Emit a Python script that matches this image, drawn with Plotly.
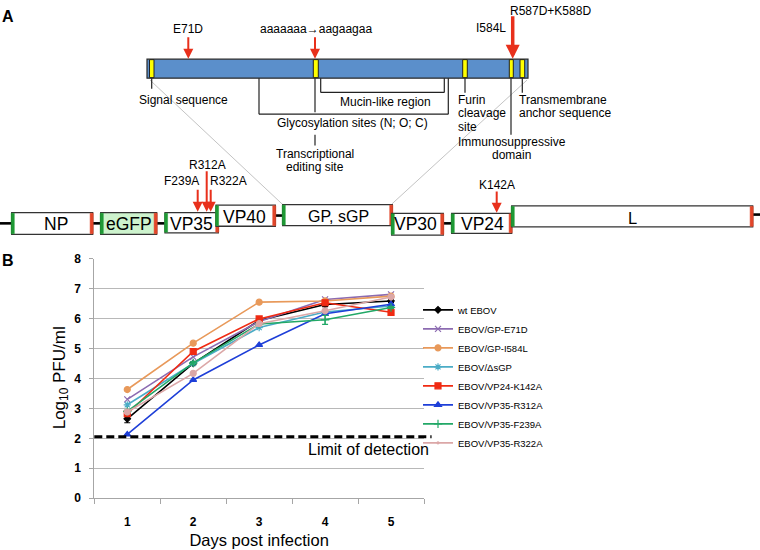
import plotly.graph_objects as go

W, H = 760, 550

# ---------------- data (panel B) ----------------
days = [1, 2, 3, 4, 5]
series_names = ["wt EBOV", "EBOV/GP-E71D", "EBOV/GP-I584L", "EBOV/ΔsGP",
                "EBOV/VP24-K142A", "EBOV/VP35-R312A", "EBOV/VP35-F239A", "EBOV/VP35-R322A"]
wt_ebov    = [2.65, 4.50, 5.94, 6.47, 6.59]
gp_e71d    = [3.30, 4.72, 5.90, 6.64, 6.81]
gp_i584l   = [3.63, 5.18, 6.55, 6.59, 6.75]
d_sgp      = [3.12, 4.50, 5.70, 6.22, 6.42]
vp24_k142a = [2.82, 4.90, 5.99, 6.53, 6.21]
vp35_r312a = [2.13, 3.95, 5.12, 6.16, 6.48]
vp35_f239a = [2.90, 4.52, 5.82, 5.96, 6.37]
vp35_r322a = [2.88, 4.17, 5.83, 6.26, 6.72]
wt_err     = [0.13, 0.05, 0.05, 0.07, 0.05]
f239a_err  = [0.04, 0.04, 0.04, 0.15, 0.04]
limit_of_detection = 2.05

# ---------------- panel A content ----------------
gene_names = ["NP", "eGFP", "VP35", "VP40", "GP, sGP", "VP30", "VP24", "L"]
mutation_labels = ["E71D", "aaaaaaa→aagaagaa", "I584L", "R587D+K588D",
                   "R312A", "F239A", "R322A", "K142A"]

series_values = [wt_ebov, gp_e71d, gp_i584l, d_sgp, vp24_k142a, vp35_r312a, vp35_f239a, vp35_r322a]
series_errors = [wt_err, None, None, None, None, None, f239a_err, None]
colors = ["#000000", "#8c6bb1", "#e8995a", "#4bacc6", "#f02a12", "#1e3fd8", "#22a867", "#dba7a7"]
symbols = ["diamond", "x-thin-open", "circle", "asterisk-open", "square", "triangle-up", "cross-thin-open", "circle"]
msizes = [5, 6, 6, 6, 6, 6, 6, 0]

FONT = "Arial, Liberation Sans, sans-serif"


def X(px):
    return px / W


def Y(py):
    return 1 - py / H


fig = go.Figure()
for name, vals, err, c, s, ms in zip(series_names, series_values, series_errors, colors, symbols, msizes):
    fig.add_trace(go.Scatter(
        x=days, y=vals, name=name, mode="lines+markers",
        line=dict(color=c, width=1.6),
        marker=dict(symbol=s, size=ms, color=c, line=dict(color=c, width=1.2)),
        error_y=(dict(type="data", array=err, color=c, thickness=1.2, width=3) if err else None),
    ))

shapes = []
annotations = []

# limit of detection
shapes.append(dict(type="line", xref="x domain", yref="y", x0=0, x1=1.023,
                   y0=limit_of_detection, y1=limit_of_detection,
                   line=dict(color="black", width=3, dash="8px,4px")))
annotations.append(dict(text="Limit of detection", xref="paper", yref="paper",
                        x=X(431), y=Y(454), xanchor="right", yanchor="middle",
                        showarrow=False, font=dict(family=FONT, size=16, color="black")))
# y-axis title
annotations.append(dict(text="Log<sub>10</sub> PFU/ml", xref="paper", yref="paper",
                        x=X(61), y=Y(381), xanchor="center", yanchor="middle", textangle=-90,
                        showarrow=False, font=dict(family=FONT, size=17, color="black")))

# ---------- panel A drawing ----------
def line(x0, y0, x1, y1, color="#222", width=1.2):
    shapes.append(dict(type="line", xref="paper", yref="paper",
                       x0=X(x0), y0=Y(y0), x1=X(x1), y1=Y(y1),
                       line=dict(color=color, width=width)))


def rect(x0, y0, x1, y1, fill, lc="#333", lw=1.2):
    shapes.append(dict(type="rect", xref="paper", yref="paper",
                       x0=X(x0), y0=Y(y0), x1=X(x1), y1=Y(y1),
                       fillcolor=fill, line=dict(color=lc, width=lw)))


def text(t, x, y, size=12, anchor="center", bold=False):
    annotations.append(dict(text=t, xref="paper", yref="paper", x=X(x), y=Y(y),
                            xanchor=anchor, yanchor="middle", showarrow=False,
                            font=dict(family=FONT, size=size, color="black",
                                      weight="bold" if bold else "normal")))


def arrow(x, ytop, ytip, width=2.0, size=1.0):
    annotations.append(dict(text="", xref="paper", yref="paper", x=X(x), y=Y(ytip),
                            ax=0, ay=-(ytip - ytop), showarrow=True,
                            arrowhead=2, arrowsize=size, arrowwidth=width,
                            arrowcolor="#e8301c", standoff=0))


RED_EDGE = "#e2462a"
GREEN_EDGE = "#1f9a35"

# panel labels
text("A", 7.5, 9.5, size=16, bold=True)
text("B", 7.5, 260, size=16, bold=True)

# diagonal zoom lines
line(150, 75, 283, 203, color="#c4c4c4", width=1)
line(527, 75, 392, 202, color="#c4c4c4", width=1)

# GP bar
rect(147, 53.5, 528, 73, "#5b8fcb", lc="#2a2a2a", lw=1.2)
for x0, x1 in [(149.5, 154), (313.3, 318.3), (462.7, 467.3), (509.3, 513.3), (520, 524.7)]:
    rect(x0, 54, x1, 72.5, "#ffff00", lc="#222", lw=1)

# feature lines / brackets
line(151.7, 73, 151.7, 84)
line(259, 73, 259, 110)
line(259, 110, 448.3, 110)
line(448.3, 110, 448.3, 73)
line(320.7, 73, 320.7, 87.7)
line(320.7, 87.7, 444.3, 87.7)
line(444.3, 87.7, 444.3, 73)
line(315, 73, 315, 108)
line(315, 131, 315, 142)
line(465, 73, 465, 88)
line(511, 73, 511, 131)
line(522.3, 73, 522.3, 88)

text("Signal sequence", 183, 95.5)
text("Mucin-like region", 385, 97)
text("Glycosylation sites (N; O; C)", 352.5, 119.5)
text("Transcriptional", 315, 150.5)
text("editing site", 315, 164)
text("Furin", 456, 95.5, anchor="left")
text("cleavage", 456, 109, anchor="left")
text("site", 456, 122.7, anchor="left")
text("Transmembrane", 517, 95.5, anchor="left")
text("anchor sequence", 517, 109, anchor="left")
text("Immunosuppressive", 511.7, 138.5)
text("domain", 511.7, 152.3)

# mutation arrows and labels
text(mutation_labels[0], 188.3, 22.7)
arrow(188.3, 30, 53)
text(mutation_labels[1], 316.3, 22.7)
arrow(315, 30, 53)
text(mutation_labels[2], 508, 21.7, anchor="right")
text(mutation_labels[3], 550.5, 4.5)
arrow(512.7, 9, 53, width=3.5, size=0.8)
text(mutation_labels[4], 207.5, 161.7)
text(mutation_labels[5], 181.5, 179)
text(mutation_labels[6], 228, 179)
arrow(206.7, 168, 210)
arrow(197.7, 186.7, 210)
arrow(210.7, 186.7, 210)
text(mutation_labels[7], 496.7, 182.3)
arrow(496.7, 188.3, 211)

# genome backbone
for x0, x1, yy in [(0, 12, 222), (92, 101, 222), (156, 165, 222), (275, 283, 214),
                   (443, 452, 222), (752, 760, 213)]:
    line(x0, yy, x1, yy, color="black", width=2.6)

# genome boxes
gene_boxes = [(11.7, 92.7, 211, 233.3, "white"), (100.7, 156.7, 211, 233.3, "#cdf3cd"),
              (165, 218.3, 211, 231.7, "white"), (216, 275.3, 203.3, 225, "white"),
              (282.7, 392.3, 202.7, 224.3, "white"), (391.7, 443.3, 211.7, 234, "white"),
              (451.7, 511.7, 211.7, 232.3, "white"), (511.7, 752.7, 204, 225.7, "white")]
label_pos = [(56, 223, 17.5), (129, 223, 17.5), (191.5, 222.5, 17.5), (244, 215, 17.5),
             (338, 214.5, 16), (415.5, 222.5, 17.5), (482.5, 222.5, 17.5), (632, 216.5, 16.5)]
for name, (x0, x1, y0, y1, fill), (lx, ly, fs) in zip(gene_names, gene_boxes, label_pos):
    rect(x0, y0, x1, y1, fill, lc="#333", lw=1.3)
    rect(x0 - 0.5, y0 + 0.6, x0 + 2.6, y1 - 0.6, GREEN_EDGE, lc=GREEN_EDGE, lw=0.5)
    rect(x1 - 2.6, y0 + 0.6, x1 + 0.5, y1 - 0.6, RED_EDGE, lc=RED_EDGE, lw=0.5)
    text(name, lx, ly, size=fs)

fig.update_layout(
    width=W, height=H,
    margin=dict(l=0, r=0, t=0, b=0),
    paper_bgcolor="white", plot_bgcolor="white",
    font=dict(family=FONT, color="black"),
    shapes=shapes, annotations=annotations,
    showlegend=True,
    legend=dict(x=X(418), y=Y(379), xanchor="left", yanchor="middle",
                font=dict(family=FONT, size=9.5, color="black", weight="normal"),
                bgcolor="rgba(0,0,0,0)", itemwidth=30, tracegroupgap=0),
    xaxis=dict(domain=[X(94.3), X(424)], range=[0.5, 5.5], tickvals=days,
               showgrid=False, zeroline=False, showline=True, linecolor="#a6a6a6", linewidth=1,
               ticks="", ticklabelstandoff=12,
               minor=dict(tickmode="linear", tick0=0.5, dtick=1, ticks="outside",
                          ticklen=5, tickcolor="#a6a6a6", showgrid=False),
               tickfont=dict(family=FONT, size=12, color="black", weight="bold"),
               title=dict(text="Days post infection", standoff=6,
                          font=dict(family=FONT, size=16.5, color="black"))),
    yaxis=dict(domain=[Y(504), Y(258.3)], range=[0, 8], dtick=1,
               showgrid=True, gridcolor="#b8b8b8", gridwidth=1, zeroline=False,
               showline=True, linecolor="#a6a6a6", linewidth=1,
               ticks="outside", ticklen=4, tickcolor="#a6a6a6", ticklabelstandoff=6,
               tickfont=dict(family=FONT, size=12, color="black", weight="bold")),
)

fig.write_html("out.html", config={"displayModeBar": False},
               post_script="document.body.style.margin='0';")
